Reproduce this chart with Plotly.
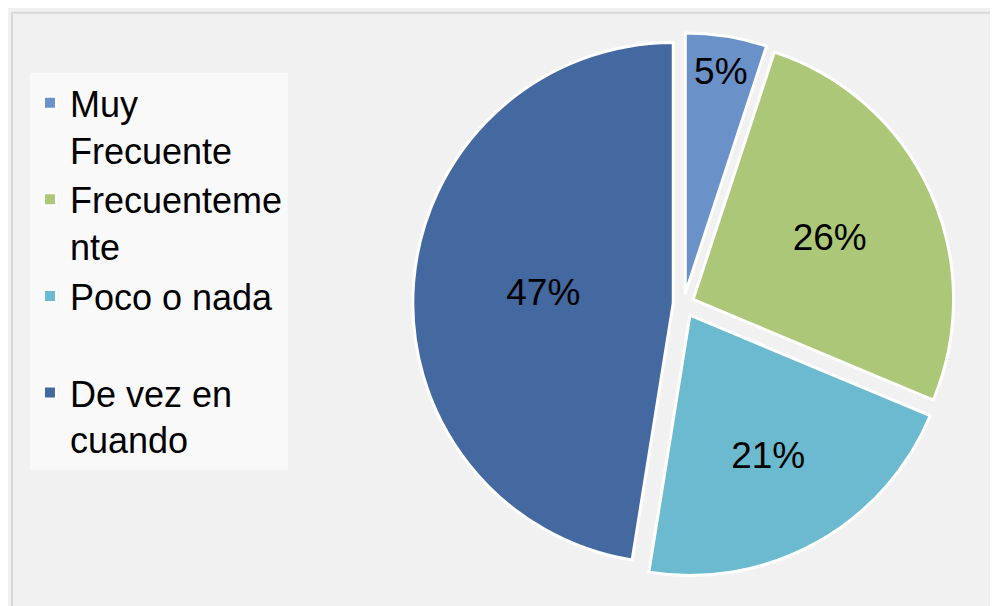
import plotly.graph_objects as go

# --- data -------------------------------------------------------------------
LABELS = ["Muy<br>Frecuente", "Frecuenteme<br>nte", "Poco o nada<br> ", "De vez en<br>cuando"]
VALUES = [5, 26, 21, 47]
COLORS = ["#6A91C8", "#ADC778", "#6BBACF", "#4469A0"]

FONT = "Liberation Sans, Arial"

fig = go.Figure(go.Pie(
    labels=LABELS, values=VALUES, sort=False, direction="clockwise", rotation=0,
    marker=dict(colors=COLORS, line=dict(color="white", width=3)),
    pull=[0.04, 0.04, 0.05, 0.04],
    texttemplate="%{percent:.0%}", textposition="inside",
    insidetextorientation="horizontal",
    textfont=dict(family=FONT, size=37, color="black"),
    domain=dict(x=[0.403, 0.951], y=[0.047, 0.977]),
    hovertemplate="%{label}: %{value}%<extra></extra>",
))

fig.update_layout(
    width=998, height=606,
    margin=dict(l=0, r=0, t=0, b=0),
    paper_bgcolor="#F1F1F1",
    font=dict(family=FONT, size=37, color="black"),
    showlegend=True,
    legend=dict(
        x=0.022, y=0.893, xanchor="left", yanchor="top",
        bgcolor="rgba(250,250,250,0.9)",
        font=dict(family=FONT, size=36, color="black"),
        valign="top", itemsizing="constant", tracegroupgap=0,
    ),
)
fig.add_shape(type="rect", xref="paper", yref="paper", x0=0.004, y0=0.006, x1=0.996, y1=0.992,
              line=dict(color="#D9D9D9", width=2), fillcolor="rgba(0,0,0,0)", layer="below")

fig.write_html("out.html")
